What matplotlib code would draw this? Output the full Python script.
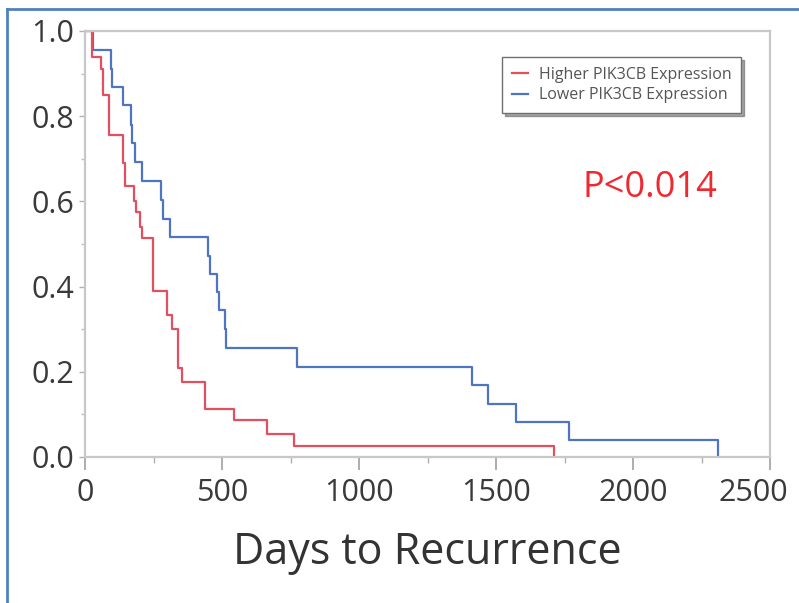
import matplotlib.pyplot as plt
from matplotlib.lines import Line2D
from matplotlib.ticker import MultipleLocator
from matplotlib.transforms import ScaledTranslation

# Kaplan-Meier steps (days, survival after the step)
high_days = [0, 24, 58, 67, 89, 137, 146, 180, 185, 201, 207, 248, 299, 317,
             341, 354, 439, 543, 665, 762, 1712]
high_surv = [1.0, 0.94, 0.91, 0.85, 0.755, 0.69, 0.635, 0.60, 0.575, 0.54, 0.513,
             0.39, 0.333, 0.30, 0.21, 0.176, 0.113, 0.086, 0.055, 0.025, 0.0]

low_days = [0, 28, 94, 100, 140, 167, 173, 183, 207, 277, 283, 311, 449, 457,
            482, 490, 510, 516, 774, 1411, 1470, 1573, 1768, 2311]
low_surv = [1.0, 0.955, 0.91, 0.869, 0.826, 0.78, 0.736, 0.692, 0.649, 0.603,
            0.559, 0.516, 0.473, 0.43, 0.387, 0.344, 0.30, 0.256, 0.211, 0.168,
            0.125, 0.082, 0.039, 0.0]

labels = ["Higher PIK3CB Expression", "Lower PIK3CB Expression"]
x_ticks = [0, 500, 1000, 1500, 2000, 2500]
y_ticks = [0.0, 0.2, 0.4, 0.6, 0.8, 1.0]

plt.rcParams['font.family'] = ['Open Sans', 'DejaVu Sans']

fig = plt.figure(figsize=(7.99, 6.03), dpi=100)
ax = fig.add_axes([85 / 799, 1 - 457 / 603, 685 / 799, 426 / 603])

ax.step(low_days, low_surv, where='post', color='#4f74c4', lw=1.6, label=labels[1])
ax.step(high_days, high_surv, where='post', color='#e2505f', lw=1.6, label=labels[0])

ax.set_xlim(0, 2500)
ax.set_ylim(0, 1.0)
ax.set_xticks(x_ticks)
ax.set_yticks(y_ticks)
ax.set_yticklabels([f"{v:.1f}" for v in y_ticks])
ax.xaxis.set_minor_locator(MultipleLocator(250))
ax.yaxis.set_minor_locator(MultipleLocator(0.1))

for s in ax.spines.values():
    s.set_color('#c8c8c8')
    s.set_linewidth(1.6)

ax.tick_params(axis='x', which='major', length=9, width=1.2, color='#a0a0a0',
               labelsize=22, labelcolor='#3a3a3a', pad=6)
ax.tick_params(axis='x', which='minor', length=4, width=1.0, color='#b0b0b0')
ax.tick_params(axis='y', which='major', length=4, width=1.0, color='#b0b0b0',
               labelsize=22, labelcolor='#3a3a3a', pad=4)
ax.tick_params(axis='y', which='minor', length=3, width=1.0, color='#c0c0c0')

# last x label sits a bit left so it stays inside the picture
last = ax.get_xticklabels()[-1]
last.set_transform(last.get_transform() + ScaledTranslation(-0.17, 0, fig.dpi_scale_trans))

ax.set_xlabel("Days to Recurrence", fontsize=31, color='#333333', labelpad=16)

# legend order: higher first
h, l = ax.get_legend_handles_labels()
leg = ax.legend(h[::-1], l[::-1], loc='upper right', bbox_to_anchor=(0.958, 0.939),
                fontsize=11.5, handlelength=1.0, handletextpad=0.7,
                fancybox=False, shadow=True, framealpha=1, edgecolor='#707070',
                borderpad=0.6, borderaxespad=0, labelspacing=0.3)
for t in leg.get_texts():
    t.set_color('#555555')

ax.text(0.824, 0.632, "P<0.014", transform=ax.transAxes, ha='center', va='center',
        fontsize=26, color='#ee2a30')

# blue frame around the picture
fig.add_artist(Line2D([7 / 799, 7 / 799], [0, 1 - 9 / 603], color='#4f81bd', lw=2))
fig.add_artist(Line2D([7 / 799, 1], [1 - 9 / 603, 1 - 9 / 603], color='#4f81bd', lw=2))

fig.savefig("out.png", dpi=100)
